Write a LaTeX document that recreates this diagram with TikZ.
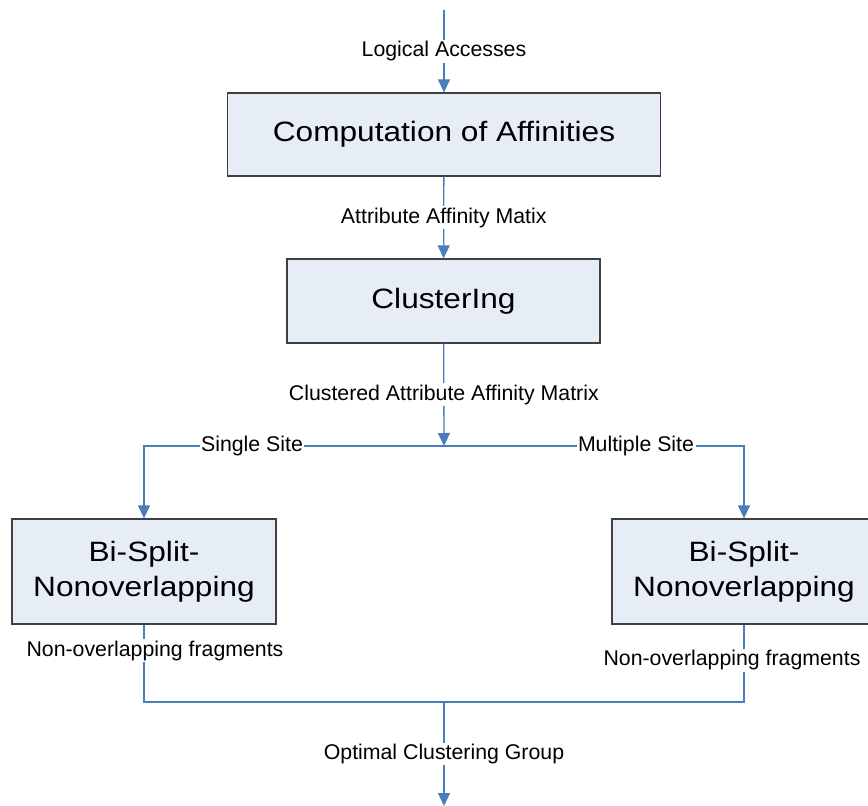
\documentclass[tikz,border=0pt]{standalone}
\usepackage{fontspec}
\setmainfont{Liberation Sans}
\newfontfamily\boxfont[FakeStretch=1.13]{Liberation Sans}
\usetikzlibrary{arrows.meta}
\definecolor{flow}{RGB}{74,126,187}
\definecolor{boxfill}{RGB}{231,237,247}
\definecolor{boxline}{RGB}{64,64,64}
\tikzset{
  stage/.style={draw=boxline, line width=1.3pt, fill=boxfill, inner sep=0pt,
    align=center, font=\boxfont\fontsize{28}{35}\selectfont},
  flowline/.style={draw=flow, line width=1.3pt},
  arr/.style={flowline, -{Triangle[length=13pt,width=12pt]}},
  lbl/.style={fill=white, inner sep=1.5pt, font=\fontsize{21.3}{24}\selectfont}
}
\begin{document}
\begin{tikzpicture}[x=1pt,y=-1pt]
\useasboundingbox (0,0) rectangle (868,806);
\fill[white] (0,0) rectangle (868,806);

% process boxes
\node[stage, minimum width=433pt, minimum height=83pt] (c1) at (444,134.5) {Computation of Affinities};
\node[stage, minimum width=313pt, minimum height=84pt] (c2) at (443.5,301) {ClusterIng};
\node[stage, minimum width=264pt, minimum height=105pt] (b3) at (144,571.5) {Bi-Split-\\Nonoverlapping};
\node[stage, minimum width=264pt, minimum height=105pt] (b4) at (744,571.5) {Bi-Split-\\Nonoverlapping};

% junction points
\coordinate (in) at (444,10);
\coordinate (split) at (444,446);
\coordinate (join) at (444,702);
\coordinate (out) at (444,806);

% main flow
\draw[arr] (in) -- node[lbl] {Logical Accesses} (c1);
\draw[arr] (c1) -- node[lbl] {Attribute Affinity Matix} (c2);
\draw[arr] (c2) -- node[lbl] {Clustered Attribute Affinity Matrix} (split);

% branches
\draw[arr] (split) -| node[lbl, pos=0.32] {Single Site} (b3);
\draw[arr] (split) -| node[lbl, pos=0.32] {Multiple Site} (b4);

% merge
\draw[flowline] (b3) |- node[lbl, pos=0.167, xshift=11pt] {Non-overlapping fragments} (join);
\draw[flowline] (b4) |- node[lbl, pos=0.23, xshift=-12pt] {Non-overlapping fragments} (join);
\draw[arr] (join) -- node[lbl] {Optimal Clustering Group} (out);
\end{tikzpicture}
\end{document}
